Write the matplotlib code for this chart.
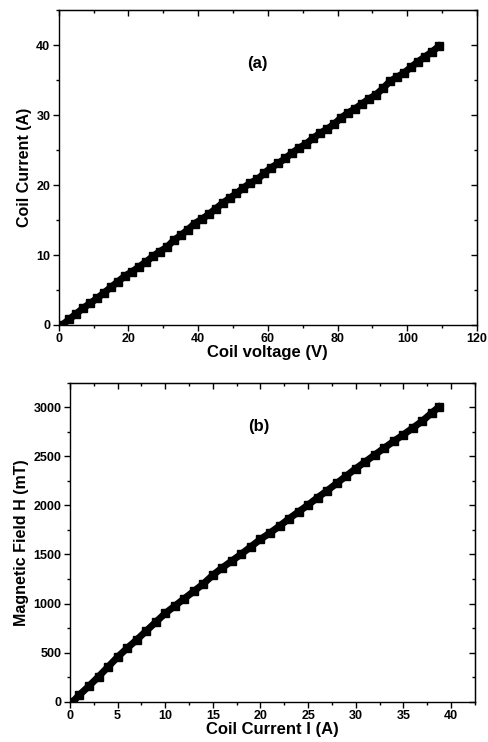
import matplotlib.pyplot as plt
from matplotlib.ticker import MultipleLocator

plt.rcParams['font.family'] = ['Liberation Sans', 'DejaVu Sans']
plt.rcParams['font.weight'] = 'bold'

# (a) coil current vs coil voltage
voltage = [1, 3, 5, 7, 9, 11, 13, 15, 17, 19, 21, 23, 25, 27, 29, 31, 33, 35, 37,
           39, 41, 43, 45, 47, 49, 51, 53, 55, 57, 59, 61, 63, 65, 67, 69, 71, 73,
           75, 77, 79, 81, 83, 85, 87, 89, 91, 93, 95, 97, 99, 101, 103, 105, 107, 109]
current_a = [0.0, 0.8, 1.6, 2.4, 3.1, 3.8, 4.6, 5.4, 6.2, 7.0, 7.6, 8.3, 9.0, 9.8,
             10.5, 11.1, 12.1, 12.8, 13.6, 14.5, 15.1, 15.8, 16.6, 17.4, 18.1, 18.8,
             19.6, 20.3, 20.8, 21.7, 22.5, 23.1, 23.8, 24.6, 25.3, 25.9, 26.7, 27.4,
             28.0, 28.7, 29.6, 30.3, 30.9, 31.6, 32.3, 32.9, 33.8, 34.8, 35.4, 36.0,
             36.8, 37.6, 38.3, 39.0, 39.8]

# (b) magnetic field vs coil current
current_b = [0.3, 1, 2, 3, 4, 5, 6, 7, 8, 9, 10, 11, 12, 13, 14, 15, 16, 17, 18, 19,
             20, 21, 22, 23, 24, 25, 26, 27, 28, 29, 30, 31, 32, 33, 34, 35, 36, 37,
             38, 38.7]
field = [0, 70, 160, 255, 355, 455, 545, 630, 720, 810, 900, 975, 1050, 1125, 1200,
         1290, 1365, 1435, 1505, 1580, 1655, 1720, 1790, 1865, 1935, 2005, 2080, 2150,
         2225, 2300, 2375, 2445, 2515, 2585, 2655, 2720, 2790, 2860, 2945, 3000]

fig = plt.figure(figsize=(4.89, 7.42), dpi=100)
ax1 = fig.add_axes([0.120, 0.562, 0.8555, 0.4245])
ax2 = fig.add_axes([0.143, 0.0543, 0.828, 0.4299])


def style(ax, xmaj, ymaj):
    ax.xaxis.set_major_locator(MultipleLocator(xmaj))
    ax.xaxis.set_minor_locator(MultipleLocator(xmaj / 2))
    ax.yaxis.set_major_locator(MultipleLocator(ymaj))
    ax.yaxis.set_minor_locator(MultipleLocator(ymaj / 2))
    ax.tick_params(which='major', direction='out', length=4, width=1, labelsize=9, pad=2)
    ax.tick_params(which='minor', direction='out', length=2.5, width=1)
    for s in ax.spines.values():
        s.set_linewidth(1)
    top = ax.secondary_xaxis('top')
    top.xaxis.set_major_locator(MultipleLocator(xmaj))
    top.xaxis.set_minor_locator(MultipleLocator(xmaj / 2))
    top.tick_params(which='major', direction='in', length=4, width=1, labeltop=False)
    top.tick_params(which='minor', direction='in', length=2.5, width=1)
    right = ax.secondary_yaxis('right')
    right.yaxis.set_major_locator(MultipleLocator(ymaj))
    right.yaxis.set_minor_locator(MultipleLocator(ymaj / 2))
    right.tick_params(which='major', direction='in', length=4, width=1, labelright=False)
    right.tick_params(which='minor', direction='in', length=2.5, width=1)


ax1.plot(voltage, current_a, color='black', marker='s', markersize=5.5,
         linewidth=5, solid_joinstyle='miter')
ax1.set_xlim(0, 120)
ax1.set_ylim(0, 45)
style(ax1, 20, 10)
ax1.set_xlabel('Coil voltage (V)', fontsize=12, fontweight='bold', labelpad=0)
ax1.set_ylabel('Coil Current (A)', fontsize=11.5, fontweight='bold', labelpad=3)
ax1.text(57, 37.4, '(a)', fontsize=12, fontweight='bold', ha='center', va='center')

ax2.plot(current_b, field, color='black', marker='s', markersize=5.5,
         linewidth=5, solid_joinstyle='miter')
ax2.set_xlim(0, 42.5)
ax2.set_ylim(0, 3250)
style(ax2, 5, 500)
ax2.set_xlabel('Coil Current I (A)', fontsize=12, fontweight='bold', labelpad=0)
ax2.set_ylabel('Magnetic Field H (mT)', fontsize=11.5, fontweight='bold', labelpad=3)
ax2.text(19.8, 2807, '(b)', fontsize=12, fontweight='bold', ha='center', va='center')

fig.savefig('out.png', dpi=100)
